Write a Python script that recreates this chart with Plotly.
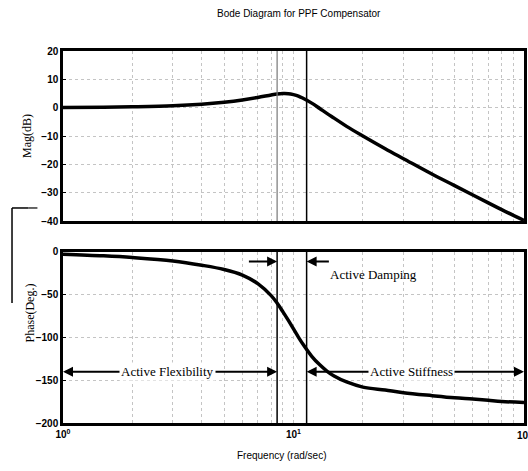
import numpy as np
import plotly.graph_objects as go

# ---- data ----
freq = [1, 1.5, 2, 3, 4, 5, 6, 7, 8, 8.5, 9, 9.5, 10, 10.5, 11, 12, 13, 14, 15, 17,
        20, 25, 30, 40, 50, 60, 70, 80, 100]
mag_db = [0.1, 0.15, 0.3, 0.65, 1.2, 1.9, 2.7, 3.6, 4.5, 4.85, 5.0, 4.95, 4.6, 4.1, 3.3,
          1.6, -0.3, -2.1, -3.7, -6.6, -10.0, -14.5, -18.0, -23.5, -27.5, -30.8, -33.6,
          -36.0, -39.8]
phase_deg = [-2.5, -4.5, -6.5, -10.5, -15.5, -20.5, -27, -37, -51, -60, -70, -80, -90,
             -99.5, -108, -122, -132, -139.5, -145, -152, -158, -161.5, -164.5, -168,
             -170.5, -172, -173.5, -174.8, -176]

f_left = 8.49      # boundary: active flexibility / damping
f_right = 11.4     # boundary: active damping / stiffness
arrow_phase = -140
damp_arrow_phase = -11

mag_ticks = [20, 10, 0, -10, -20, -30, -40]
phase_ticks = [0, -50, -100, -150, -200]
x_tickvals = [1, 10]
x_ticktext = ["10<sup>0</sup>", "10<sup>1</sup>"]
x_last_tick = 100
x_last_text = "10<sup>2</sup>"
minor_vals = [2, 3, 4, 5, 6, 7, 8, 9, 20, 30, 40, 50, 60, 70, 80, 90]

SANS = "Liberation Sans, Arial, sans-serif"
SERIF = "Liberation Serif, Times New Roman, serif"

fig = go.Figure()

fig.add_trace(go.Scatter(x=freq, y=mag_db, mode="lines", line=dict(color="black", width=3.5, shape="spline"),
                         xaxis="x", yaxis="y", showlegend=False, hoverinfo="skip"))
fig.add_trace(go.Scatter(x=freq, y=phase_deg, mode="lines", line=dict(color="black", width=3.5, shape="spline"),
                         xaxis="x2", yaxis="y2", showlegend=False, hoverinfo="skip"))

# boundary lines
fig.add_trace(go.Scatter(x=[f_left, f_left], y=[-40, 20], mode="lines", line=dict(color="#777", width=1.2),
                         xaxis="x", yaxis="y", showlegend=False, hoverinfo="skip"))
fig.add_trace(go.Scatter(x=[f_right, f_right], y=[-40, 20], mode="lines", line=dict(color="black", width=1.5),
                         xaxis="x", yaxis="y", showlegend=False, hoverinfo="skip"))
for f in (f_left, f_right):
    fig.add_trace(go.Scatter(x=[f, f], y=[-200, 0], mode="lines", line=dict(color="black", width=1.5),
                             xaxis="x2", yaxis="y2", showlegend=False, hoverinfo="skip"))

GRIDC = "#c4c4c4"
xcommon = dict(type="log", range=[0, 2], showline=True, linecolor="black", linewidth=2.5, mirror=True,
               tickmode="array", tickvals=x_tickvals, zeroline=False, automargin=False,
               showgrid=True, gridcolor=GRIDC, gridwidth=1, griddash="dot",
               minor=dict(tickmode="array", tickvals=minor_vals, showgrid=True, gridcolor=GRIDC,
                          griddash="dot", gridwidth=1),
               tickfont=dict(family=SANS, size=10, color="black", weight="bold"))
ycommon = dict(showline=True, linecolor="black", linewidth=2.5, mirror=True, zeroline=False,
               automargin=False, ticks="inside", ticklen=3, tickcolor="black",
               showgrid=True, gridcolor=GRIDC, gridwidth=1, griddash="dot",
               tickfont=dict(family=SANS, size=10, color="black", weight="bold"))

fig.update_layout(
    width=528, height=471,
    margin=dict(l=63, r=4, t=51, b=48, autoexpand=False),
    paper_bgcolor="white", plot_bgcolor="white",
    xaxis=dict(anchor="y", domain=[0, 1], showticklabels=False, **xcommon),
    yaxis=dict(anchor="x", domain=[0.543, 1], range=[-40, 20], tickvals=mag_ticks, **ycommon),
    xaxis2=dict(anchor="y2", domain=[0, 1], ticktext=x_ticktext, **xcommon),
    yaxis2=dict(anchor="x2", domain=[0, 0.4597], range=[-200, 0], tickvals=phase_ticks, **ycommon),
)

ann = []
L = np.log10
arr = dict(showarrow=True, arrowhead=2, arrowsize=1, arrowwidth=2, arrowcolor="black", text="",
           axref="x2", ayref="y2", xref="x2", yref="y2")
ann.append(dict(x=L(f_left), y=damp_arrow_phase, ax=0.80, ay=damp_arrow_phase, **arr))
ann.append(dict(x=L(f_right), y=damp_arrow_phase, ax=1.16, ay=damp_arrow_phase, **arr))
ann.append(dict(x=0, y=arrow_phase, ax=0.454, ay=arrow_phase, **arr))
ann.append(dict(x=L(f_left), y=arrow_phase, ax=0.454, ay=arrow_phase, **arr))
ann.append(dict(x=L(f_right), y=arrow_phase, ax=1.513, ay=arrow_phase, **arr))
ann.append(dict(x=2, y=arrow_phase, ax=1.513, ay=arrow_phase, **arr))

lab = dict(showarrow=False, xref="x2", yref="y2", font=dict(family=SERIF, size=13, color="black"))
ann.append(dict(x=0.454, y=arrow_phase, text="Active Flexibility", bgcolor="white", borderpad=1, **lab))
ann.append(dict(x=1.513, y=arrow_phase, text="Active Stiffness", bgcolor="white", borderpad=1, **lab))
ann.append(dict(x=1.151, y=-26, text="Active Damping", xanchor="left", **lab))

# last decade tick label (partly outside the page, as in the reference)
ann.append(dict(x=L(x_last_tick), y=-0.012, xref="x2", yref="paper", yanchor="top", showarrow=False,
                text=x_last_text, font=dict(family=SANS, size=10, color="black", weight="bold")))

# titles
ann.append(dict(x=0.511, y=1.0995, xref="paper", yref="paper", yanchor="middle", showarrow=False,
                text="Bode Diagram for PPF Compensator", font=dict(family=SANS, size=10, color="black")))
ann.append(dict(x=0.473, y=-0.0887, xref="paper", yref="paper", yanchor="middle", showarrow=False,
                text="Frequency (rad/sec)", font=dict(family=SANS, size=10, color="black")))
ann.append(dict(x=-0.0976, y=0.836, xref="paper", yref="paper", showarrow=False, textangle=-90,
                text="Mag(dB)", font=dict(family=SERIF, size=12, color="black")))
ann.append(dict(x=-0.091, y=0.2097, xref="paper", yref="paper", showarrow=False, textangle=-90,
                text="Phase(Deg.)", font=dict(family=SERIF, size=12, color="black")))
fig.update_layout(annotations=ann)

# bracket mark at the left edge
fig.add_shape(type="line", xref="paper", yref="paper", x0=-0.1106, x1=-0.075, y0=0.578, y1=0.578,
              line=dict(color="black", width=1.5))
fig.add_shape(type="line", xref="paper", yref="paper", x0=-0.075, x1=-0.0499, y0=0.578, y1=0.578,
              line=dict(color="black", width=1.2, dash="dash"))
fig.add_shape(type="line", xref="paper", yref="paper", x0=-0.1106, x1=-0.1106, y0=0.578, y1=0.3226,
              line=dict(color="black", width=1.5))

fig.write_html("out.html", config={"displayModeBar": False},
               post_script="document.body.style.margin='0';document.body.style.overflow='hidden';")
